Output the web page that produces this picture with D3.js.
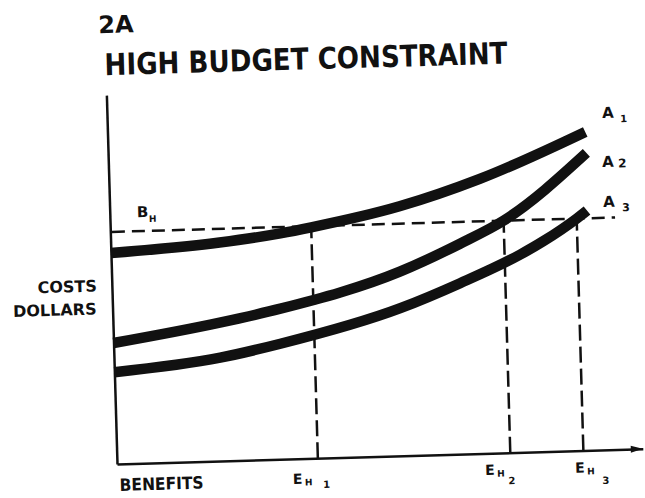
<!DOCTYPE html>
<html>
<head>
<meta charset="utf-8">
<script src="https://cdn.jsdelivr.net/npm/d3@7"></script>
<style>
  html, body { margin: 0; padding: 0; background: #fff; }
  svg { display: block; }
  text { font-family: "DejaVu Sans", Verdana, sans-serif; font-weight: bold; fill: #111; }
</style>
</head>
<body>
<svg id="chart" width="645" height="498"></svg>
<script>
// ---- data (benefits on x, costs on y, both in arbitrary 0-100 units) ----
const curveNames = ["A1", "A2", "A3"];
const a1Benefits = [0, 20.7, 32.3, 38.2, 55.1, 70.5, 90.8];
const a1Costs    = [57.2, 59.2, 61.2, 62.6, 67.6, 74.4, 86.3];
const a2Benefits = [0, 20.3, 31.9, 54.8, 66.4, 74.8, 90.9];
const a2Costs    = [32.8, 37.5, 40.8, 49.9, 57.0, 62.9, 80.6];
const a3Benefits = [0, 20.2, 31.7, 54.7, 66.2, 77.8, 82.2, 88.7, 90.7];
const a3Costs    = [24.9, 28.0, 31.3, 40.0, 46.3, 53.6, 57.0, 62.9, 65.0];
const budgetHigh = 62.9;            // B_H
const budgetExtent = [0.3, 96];     // span of the dashed budget line
const equilibriumNames = ["1", "2", "3"];
const equilibriumBenefits = [38.2, 74.8, 88.7];  // E_H1, E_H2, E_H3

// ---- layout ----
const svg = d3.select("#chart");
const ox = 117, oy = 464;           // axis origin
const x = d3.scaleLinear().domain([0, 100]).range([ox, 643]);
const y = d3.scaleLinear().domain([0, 100]).range([oy, 95]);

// the scanned figure is slightly rotated
const g = svg.append("g").attr("transform", `rotate(-1.65, ${ox}, ${oy})`);

// axes (no ticks)
const xAxis = g.append("g").attr("transform", `translate(0,${oy})`)
  .call(d3.axisBottom(x).tickValues([]).tickSizeOuter(0));
const yAxis = g.append("g").attr("transform", `translate(${ox},0)`)
  .call(d3.axisLeft(y).tickValues([]).tickSizeOuter(0));
[xAxis, yAxis].forEach(a => a.select(".domain").attr("stroke", "#111").attr("stroke-width", 2.5));
// arrow head on x-axis
g.append("path")
  .attr("d", `M${x(100)},${oy} L${x(100) - 12},${oy - 3.5} L${x(100) - 12},${oy + 3.5} Z`)
  .attr("fill", "#111");

// dashed budget line
g.append("line")
  .attr("x1", x(budgetExtent[0])).attr("x2", x(budgetExtent[1]))
  .attr("y1", y(budgetHigh)).attr("y2", y(budgetHigh))
  .attr("stroke", "#111").attr("stroke-width", 2.5).attr("stroke-dasharray", "13,7");

// dashed verticals
g.selectAll("line.eq").data(equilibriumBenefits).join("line")
  .attr("class", "eq")
  .attr("x1", d => x(d)).attr("x2", d => x(d))
  .attr("y1", y(0)).attr("y2", y(budgetHigh))
  .attr("stroke", "#111").attr("stroke-width", 2.5).attr("stroke-dasharray", "16,6");

// cost curves
const curves = [
  { name: curveNames[0], xs: a1Benefits, ys: a1Costs },
  { name: curveNames[1], xs: a2Benefits, ys: a2Costs },
  { name: curveNames[2], xs: a3Benefits, ys: a3Costs }
];
const line = d3.line().x(d => x(d[0])).y(d => y(d[1])).curve(d3.curveMonotoneX);
g.selectAll("path.curve").data(curves).join("path")
  .attr("class", "curve")
  .attr("d", c => line(c.xs.map((v, i) => [v, c.ys[i]])))
  .attr("fill", "none").attr("stroke", "#111").attr("stroke-width", 10.5);

// ---- text ----
function txt(t, px, py, size, anchor) {
  return g.append("text").attr("x", px).attr("y", py)
    .attr("font-size", size).attr("text-anchor", anchor || "start").text(t);
}
txt("2A", 111, 33, 24);
txt("HIGH BUDGET CONSTRAINT", 116, 75, 30)
  .attr("textLength", 403).attr("lengthAdjust", "spacingAndGlyphs");

txt("COSTS", 102, 291, 16, "end");
txt("DOLLARS", 101, 314, 16, "end");
txt("BENEFITS", 119, 491, 17).attr("textLength", 84).attr("lengthAdjust", "spacingAndGlyphs");

// B_H
txt("B", 144, 218, 15);
txt("H", 156, 223, 9);

// A labels
const aPos = [[612, 132], [610.6, 181], [610.4, 221]];
const aSub = [[18, 5, 10], [16, 1, 12], [19, 5, 11]];
curveNames.forEach((n, i) => {
  txt("A", aPos[i][0], aPos[i][1], 15);
  txt(n.slice(1), aPos[i][0] + aSub[i][0], aPos[i][1] + aSub[i][1], aSub[i][2]);
});

// E_H labels
const ePos = [[292.4, 489], [484.7, 485.6], [574.7, 486]];
const eSub = [[30, 5], [23, 10], [27, 12]];
equilibriumNames.forEach((n, i) => {
  txt("E", ePos[i][0], ePos[i][1], 14);
  txt("H", ePos[i][0] + 12, ePos[i][1] + 2, 9);
  txt(n, ePos[i][0] + eSub[i][0], ePos[i][1] + eSub[i][1], 10);
});
</script>
</body>
</html>
